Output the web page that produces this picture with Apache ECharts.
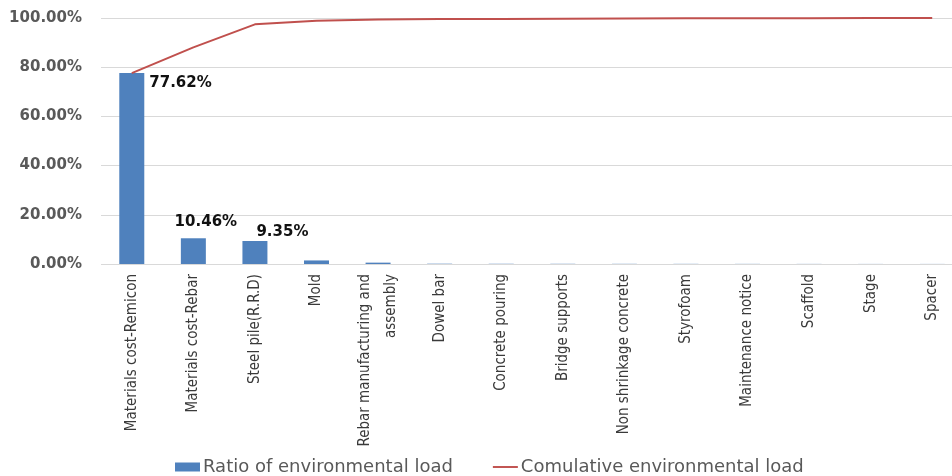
<!DOCTYPE html>
<html>
<head>
<meta charset="utf-8">
<script src="https://cdn.jsdelivr.net/npm/echarts@6/dist/echarts.min.js"></script>
<style>
  html, body { margin: 0; padding: 0; background: #fff; }
  #chart { width: 952px; height: 476px; }
</style>
</head>
<body>
<div id="chart"></div>
<script>
// Work items, ordered by share of environmental load
const categories = [
  'Materials cost-Remicon', 'Materials cost-Rebar', 'Steel pile(R.R.D)', 'Mold',
  'Rebar manufacturing and\nassembly', 'Dowel bar', 'Concrete pouring', 'Bridge supports',
  'Non shrinkage concrete', 'Styrofoam', 'Maintenance notice', 'Scaffold', 'Stage', 'Spacer'
];

// Share of each item (%)
const ratioValues = [77.62, 10.46, 9.35, 1.45, 0.55, 0.12, 0.09, 0.08, 0.07, 0.06, 0.05, 0.04, 0.03, 0.03];

// Running total (%)
const cumulativeValues = [77.62, 88.08, 97.43, 98.88, 99.43, 99.55, 99.64, 99.72, 99.79, 99.85, 99.90, 99.94, 99.97, 100.00];

// Y axis ticks (%)
const yTicks = [0, 20, 40, 60, 80, 100];

const seriesNames = ['Ratio of environmental load', 'Comulative environmental load'];

// Label placement for the three labelled bars
const labelPlacement = {
  0: { position: [30, 10], align: 'left' },
  1: { position: [25, -16], align: 'center' },
  2: { position: [40, -9], align: 'center' }
};

const labelFont = {
  fontFamily: 'DejaVu Sans', fontSize: 15, fontWeight: 'bold', color: '#111'
};

const barData = ratioValues.map((v, i) => {
  const p = labelPlacement[i];
  if (!p) return v;
  return {
    value: v,
    label: Object.assign({
      show: true,
      position: p.position,
      align: p.align,
      verticalAlign: 'middle',
      formatter: (d) => d.value.toFixed(2) + '%'
    }, labelFont)
  };
});

const chart = echarts.init(document.getElementById('chart'), null, { renderer: 'canvas' });

chart.setOption({
  animation: false,
  backgroundColor: '#fff',
  grid: {
    left: 101, width: 862, top: 18, bottom: 212,
    containLabel: false,
    outerBoundsMode: 'none'
  },
  legend: {
    bottom: 0,
    left: 175,
    padding: 0,
    itemGap: 40,
    itemWidth: 25,
    itemHeight: 9,
    textStyle: { fontFamily: 'DejaVu Sans', fontSize: 18, color: '#595959', padding: [0, 0, 0, -2] },
    data: [
      { name: seriesNames[0], icon: 'rect' },
      { name: seriesNames[1], icon: 'path://M0,0 L26,0 L26,2 L0,2 Z' }
    ]
  },
  xAxis: {
    type: 'category',
    data: categories,
    axisLine: { show: false },
    axisTick: { show: false },
    axisLabel: {
      interval: 0,
      rotate: 90,
      margin: 10,
      fontFamily: 'Liberation Sans Narrow, DejaVu Sans Condensed, sans-serif',
      fontSize: 15,
      lineHeight: 26,
      color: '#3a3a3a'
    }
  },
  yAxis: {
    type: 'value',
    min: yTicks[0],
    max: yTicks[yTicks.length - 1],
    interval: yTicks[1] - yTicks[0],
    axisLine: { show: false },
    axisTick: { show: false },
    splitLine: { lineStyle: { color: '#D9D9D9', width: 1 } },
    axisLabel: {
      margin: 19,
      fontFamily: 'DejaVu Sans',
      fontSize: 15,
      fontWeight: 'bold',
      color: '#595959',
      formatter: (v) => v.toFixed(2) + '%'
    }
  },
  series: [
    {
      name: seriesNames[0],
      type: 'bar',
      data: barData,
      barWidth: 25,
      itemStyle: { color: '#4F81BD' },
      z: 2
    },
    {
      name: seriesNames[1],
      type: 'line',
      data: cumulativeValues,
      showSymbol: false,
      symbol: 'none',
      lineStyle: { color: '#C0504D', width: 2 },
      itemStyle: { color: '#C0504D' },
      z: 3
    }
  ]
});
</script>
</body>
</html>
